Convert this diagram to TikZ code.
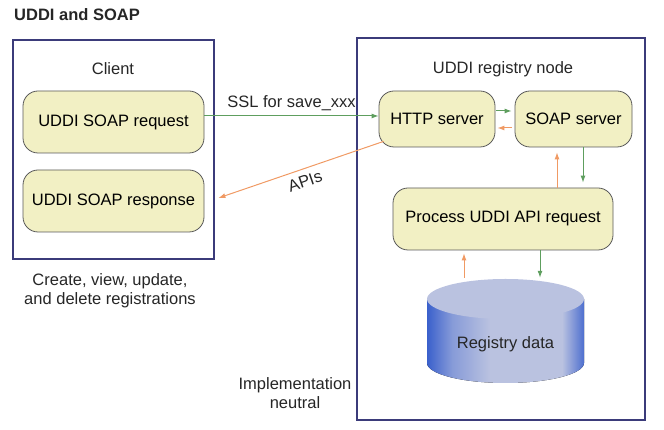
\documentclass[tikz,border=0pt]{standalone}
\usepackage{fontspec}
\setmainfont{Liberation Sans}
\usetikzlibrary{arrows.meta,calc}
\definecolor{framecol}{HTML}{3B3B7A}
\definecolor{boxfill}{HTML}{F2F0C4}
\definecolor{okgreen}{HTML}{5E9E5E}
\definecolor{backorange}{HTML}{F09A64}
\definecolor{cylblue}{HTML}{3A60CC}
\definecolor{cyllight}{HTML}{BAC2E0}
\pgfdeclarehorizontalshading{cylbody}{100bp}{color(0bp)=(cylblue); color(25bp)=(cylblue); color(33bp)=(cyllight!60!cylblue); color(45bp)=(cyllight); color(68bp)=(cyllight); color(75bp)=(cylblue!85!cyllight); color(100bp)=(cylblue!85!cyllight)}
\tikzset{
  frame/.style={draw=framecol, line width=1.8pt},
  step box/.style={draw=black!65, fill=boxfill, rounded corners=15pt, line width=0.8pt, font=\fontsize{16.5}{19}\selectfont},
  lbl/.style={font=\fontsize{16.5}{19}\selectfont, text=black!85, align=center},
  fwd/.style={draw=okgreen, line width=1pt, -{Latex[length=7pt,width=5pt]}},
  bwd/.style={draw=backorange, line width=1pt, -{Latex[length=7pt,width=5pt]}}
}
\begin{document}
\begin{tikzpicture}[x=1pt,y=1pt]
  \useasboundingbox (0,0) rectangle (664,430);
  \node[lbl, font=\fontsize{16.5}{19}\selectfont\bfseries] (title) at (77,415) {UDDI and SOAP};
  % client side
  \draw[frame] (13,171) rectangle (214,390);
  \node[lbl] (client) at (113,361) {Client};
  \node[step box, minimum width=181pt, minimum height=62pt] (req) at (113.5,308) {UDDI SOAP request};
  \node[step box, minimum width=181pt, minimum height=62pt] (resp) at (113.5,229) {UDDI SOAP response};
  \node[lbl] (ops) at (110,139) {Create, view, update,\\and delete registrations};
  % registry side
  \draw[frame] (357,10) rectangle (645,392);
  \node[lbl] (regnode) at (503,361) {UDDI registry node};
  \node[step box, minimum width=116pt, minimum height=56pt] (http) at (437,311) {HTTP server};
  \node[step box, minimum width=117pt, minimum height=56pt] (soap) at (573.5,311) {SOAP server};
  \node[step box, minimum width=220pt, minimum height=62pt] (proc) at (503,211) {Process UDDI API request};
  % registry data cylinder
  \fill[shading=cylbody] (427,131) -- (427,67) arc[start angle=180, end angle=360, x radius=78.5, y radius=20] -- (584,131) -- cycle;
  \fill[cyllight] (505.5,131) ellipse[x radius=78.5, y radius=20];
  \node[lbl, minimum width=157pt, minimum height=104pt] (db) at (505.5,99) {};
  \node[lbl] (dbtext) at (505.5,86) {Registry data};
  \node[lbl] (neutral) at (295,37) {Implementation\\neutral};
  % connectors
  \draw[fwd] ([yshift=6pt]req.east) -- ([yshift=3pt]http.west) node[midway, above, lbl, yshift=1pt] {SSL for save\_xxx};
  \draw[bwd] ($(http.south west)+(5,6)$) -- ($(resp.east)+(14,3)$);
  \path ($(resp.east)+(14,3)$) -- ($(http.south west)+(5,6)$) node[pos=0.5, sloped, below, lbl, inner sep=6.5pt] (apis) {APIs};
  \draw[fwd, shorten <=1pt, shorten >=3pt] ([yshift=8pt]http.east) -- ([yshift=8pt]soap.west);
  \draw[bwd, shorten <=3pt, shorten >=2pt] ([yshift=-9pt]soap.west) -- ([yshift=-9pt]http.east);
  \draw[fwd, shorten >=5pt] ([xshift=9.5pt]soap.south) -- ([xshift=9.5pt]soap.south |- proc.north);
  \draw[bwd, shorten >=5pt] ([xshift=54pt]proc.north) -- ([xshift=54pt]proc.north |- soap.south);
  \draw[bwd, shorten <=1pt, shorten >=3pt] ([xshift=-41.5pt]db.north) -- ([xshift=-41.5pt]db.north |- proc.south);
  \draw[fwd, shorten >=1pt] ([xshift=37pt]proc.south) -- ([xshift=37pt]proc.south |- db.north);
\end{tikzpicture}
\end{document}
